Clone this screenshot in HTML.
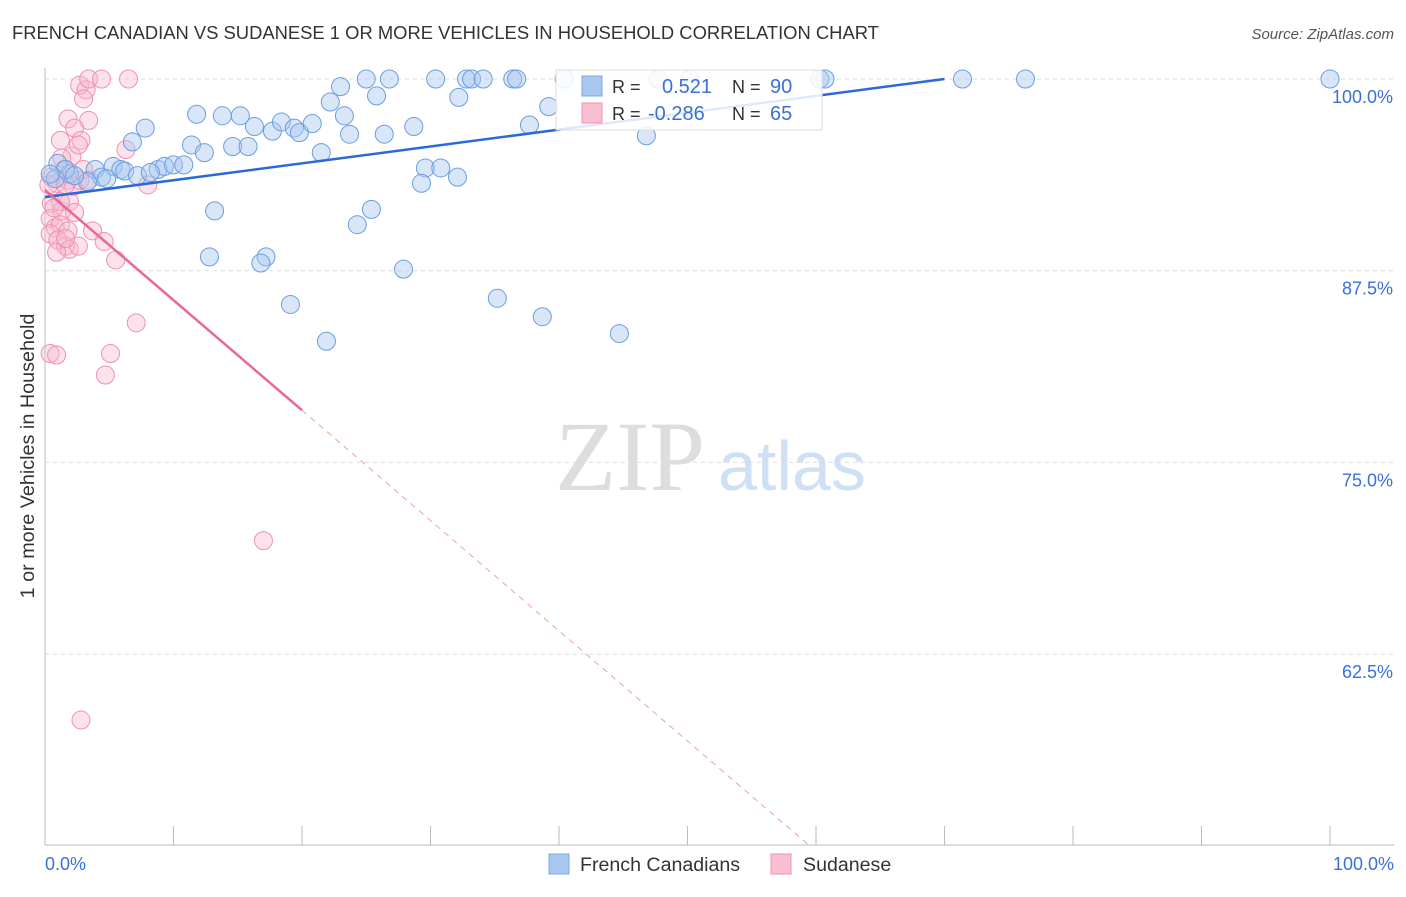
<!DOCTYPE html>
<html><head><meta charset="utf-8"><style>
body{margin:0;background:#fff;font-family:"Liberation Sans",sans-serif}
</style></head><body>
<svg width="1406" height="892" id="c" xmlns="http://www.w3.org/2000/svg" style="font-family:'Liberation Sans',sans-serif">
<text x="12" y="39" font-size="18.4" fill="#333">FRENCH CANADIAN VS SUDANESE 1 OR MORE VEHICLES IN HOUSEHOLD CORRELATION CHART</text>
<text x="1394" y="39" font-size="15" fill="#555" font-style="italic" text-anchor="end">Source: ZipAtlas.com</text>
<text x="34" y="456" font-size="19.8" fill="#333" text-anchor="middle" transform="rotate(-90 34 456)">1 or more Vehicles in Household</text>
<text x="555" y="490" font-size="100" fill="#ddd" font-family="Liberation Serif">ZIP</text>
<text x="718" y="490" font-size="70" fill="#cfe0f5">atlas</text>
<g id="grid"></g><g id="pts"></g><g id="lines"></g>
<g>
<rect x="556" y="70" width="266" height="60" fill="#fff" fill-opacity="0.85" stroke="#ddd"/>
<rect x="582" y="76" width="20" height="20" fill="#a8c8f0" stroke="#7aa8e0"/>
<rect x="582" y="103" width="20" height="20" fill="#f8c0d0" stroke="#f090b0"/>
<text x="612" y="93" font-size="18" fill="#333">R = </text><text x="662" y="93" font-size="20" fill="#3a70d8">0.521</text>
<text x="732" y="93" font-size="18" fill="#333">N = </text><text x="770" y="93" font-size="20" fill="#3a70d8">90</text>
<text x="612" y="120" font-size="18" fill="#333">R = </text><text x="648" y="120" font-size="20" fill="#3a70d8">-0.286</text>
<text x="732" y="120" font-size="18" fill="#333">N = </text><text x="770" y="120" font-size="20" fill="#3a70d8">65</text>
</g>
<g>
<rect x="549" y="854" width="20" height="20" fill="#a8c8f0" stroke="#7aa8e0"/>
<text x="580" y="871" font-size="19.6" fill="#333">French Canadians</text>
<rect x="771" y="854" width="20" height="20" fill="#f8c0d0" stroke="#f090b0"/>
<text x="803" y="871" font-size="19.6" fill="#333">Sudanese</text>
</g>
</svg>
<script>
const yTicks=[100,87.5,75,62.5];
const yTickLabels=["100.0%","87.5%","75.0%","62.5%"];
const xLabels=["0.0%","100.0%"];
const blueX=[23.0,25.0,26.8,30.4,32.8,33.2,34.1,36.4,36.7,40.4,47.7,50.2,60.3,60.7,71.4,76.3,100,22.2,25.8,32.2,39.2,26.4,28.7,11.8,13.8,15.2,7.8,16.3,17.7,18.4,19.4,19.8,20.8,23.3,23.7,37.7,46.8,6.8,11.4,12.4,14.6,15.8,21.5,5.3,5.9,8.8,9.3,10.0,10.8,29.6,30.8,3.9,4.4,4.8,6.2,7.2,8.2,3.3,1.9,1.0,32.1,29.3,13.2,25.4,24.3,12.8,17.2,16.8,27.9,19.1,35.2,38.7,21.9,44.7,1.6,0.8,2.3,0.4];
const blueY=[99.5,100,100,100,100,100,100,100,100,100,100,100,100,100,100,100,100,98.5,98.9,98.8,98.2,96.4,96.9,97.7,97.6,97.6,96.8,96.9,96.6,97.2,96.8,96.5,97.1,97.6,96.4,97.0,96.3,95.9,95.7,95.2,95.6,95.6,95.2,94.3,94.1,94.1,94.3,94.4,94.4,94.2,94.2,94.1,93.6,93.5,94.0,93.7,93.9,93.3,93.8,94.5,93.6,93.2,91.4,91.5,90.5,88.4,88.4,88.0,87.6,85.3,85.7,84.5,82.9,83.4,94.1,93.5,93.7,93.8];
const pinkX=[2.7,3.2,3.4,4.4,6.5,3.0,1.8,3.4,2.3,2.8,1.2,6.3,2.1,1.3,2.6,1.5,3.0,0.5,0.9,1.8,2.2,2.7,3.4,0.5,1.3,1.9,2.3,0.4,0.8,1.2,1.8,0.4,1.0,1.6,1.9,2.6,0.9,3.7,4.6,5.5,7.1,8.0,0.4,0.9,5.1,4.7,17.0,2.8,1.6,1.2,0.3,0.7,1.6];
const pinkY=[99.6,99.3,100,100,100,98.7,97.4,97.3,96.8,96.0,96.0,95.4,94.98,94.85,95.7,94.1,94.1,93.6,93.2,93.4,93.0,93.4,93.4,91.9,91.4,92.0,91.3,90.9,90.3,90.5,90.1,89.9,89.5,89.1,88.9,89.1,88.7,90.1,89.4,88.2,84.1,93.1,82.1,82.0,82.1,80.7,69.9,58.2,89.6,92.0,93.1,91.6,93.1];
const blueTrend=[[0,92.3],[70,100]];
const pinkSolid=[[0,92.76],[20,78.4]];
const pinkDash=[[20,78.4],[59.5,50]];
const X=v=>45+v*12.85, Y=v=>79+(100-v)*15.336;
const NS="http://www.w3.org/2000/svg";
function mk(t,a,p){const e=document.createElementNS(NS,t);for(const k in a)e.setAttribute(k,a[k]);document.getElementById(p).appendChild(e);return e;}
const g='grid';
let ax=mk('line',{x1:45,y1:68,x2:45,y2:845,stroke:'#bbb'},g);


let bx=mk('line',{x1:45,y1:845,x2:1394,y2:845,stroke:'#bbb'},g);


yTicks.forEach((t,i)=>{
 const l=mk('line',{x1:45,x2:1394,y1:Y(t),y2:Y(t),stroke:'#ddd','stroke-dasharray':'4,4'},g);
 
 
 const tx=mk('text',{x:1393,y:Y(t)+24,'font-size':18,fill:'#3a70d8','text-anchor':'end'},g);
 tx.textContent=yTickLabels[i];
 
 
});
for(let i=0;i<=10;i++){
 const l=mk('line',{x1:X(i*10),x2:X(i*10),y1:826,y2:845,stroke:'#bbb'},g);
 
 
}
[[0,'start',45],[100,'end',1394]].forEach((d,i)=>{
 const tx=mk('text',{x:d[2],y:870,'font-size':18,fill:'#3a70d8','text-anchor':d[1]},g);
 tx.textContent=xLabels[i];
 
 
});
pinkX.forEach((v,i)=>{
 const c=mk('circle',{cx:X(v),cy:Y(pinkY[i]),r:9,fill:'#f8b8cc','fill-opacity':0.4,stroke:'#f090b0','stroke-width':1},'pts');
 
 
});
blueX.forEach((v,i)=>{
 const c=mk('circle',{cx:X(v),cy:Y(blueY[i]),r:9,fill:'#a8c8f0','fill-opacity':0.45,stroke:'#6a9ee0','stroke-width':1},'pts');
 
 
});
function ln(d,attrs,name){const l=mk('line',Object.assign({x1:X(d[0][0]),y1:Y(d[0][1]),x2:X(d[1][0]),y2:Y(d[1][1])},attrs),'lines');
 
 }
ln(blueTrend,{stroke:'#2a6ad8','stroke-width':2.5},'french-canadian-trendline');
ln(pinkSolid,{stroke:'#e8689a','stroke-width':2.5},'sudanese-trendline');
ln(pinkDash,{stroke:'#e8a0b8','stroke-width':1,'stroke-dasharray':'6,5'},'sudanese-trendline-extension');
</script>
</body></html>
